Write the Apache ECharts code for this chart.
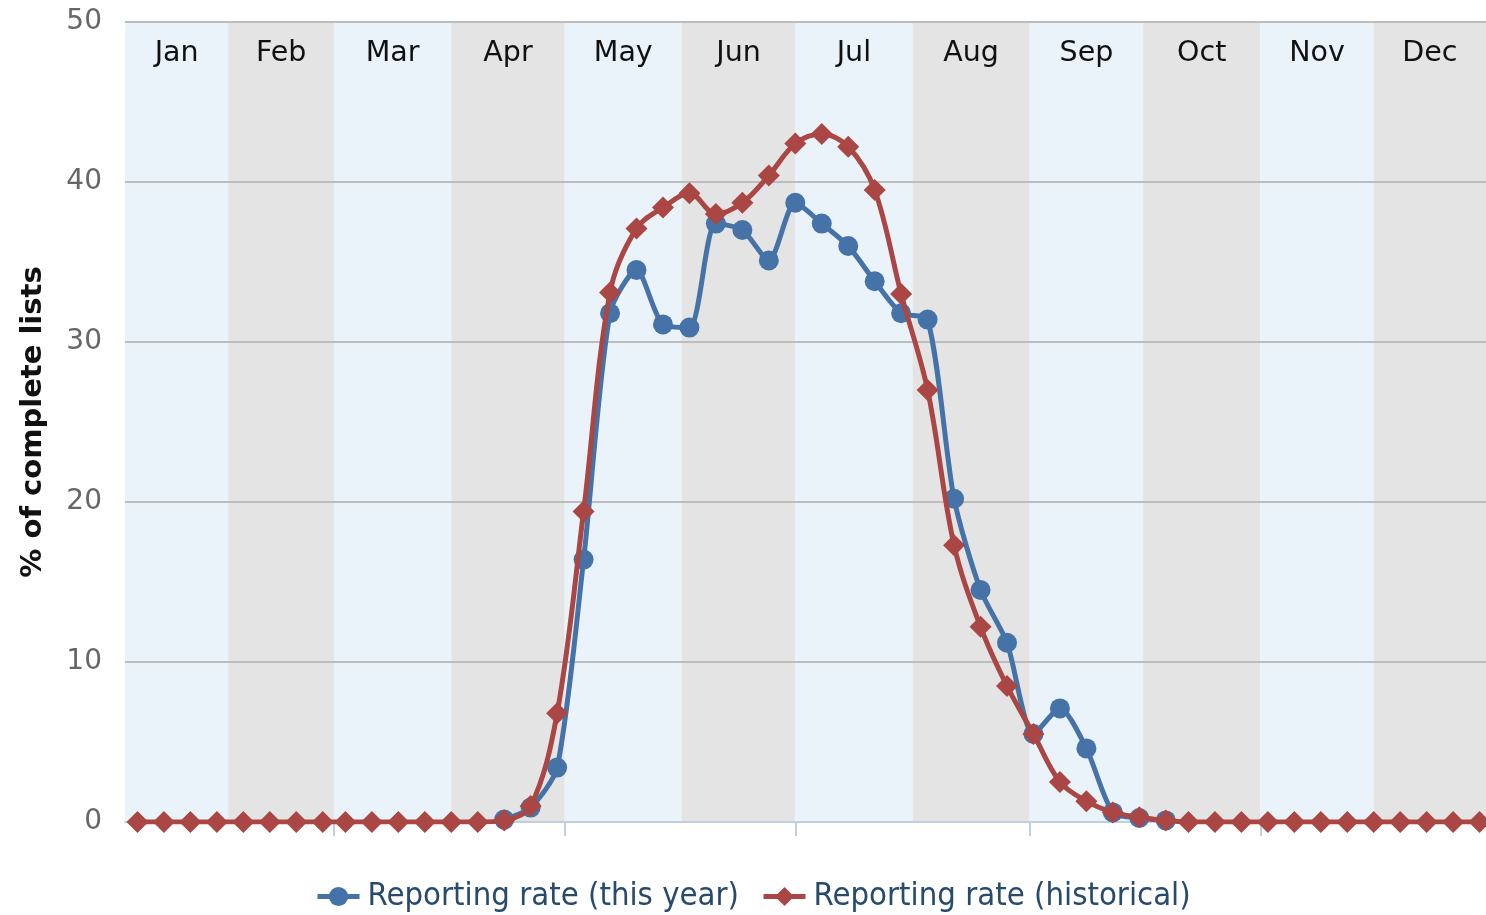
<!DOCTYPE html>
<html>
<head>
<meta charset="utf-8">
<script src="https://cdn.jsdelivr.net/npm/echarts@6.0.0/dist/echarts.min.js"></script>
<style>
  html, body { margin: 0; padding: 0; background: #ffffff; }
  #chart { width: 1486px; height: 915px; }
</style>
</head>
<body>
<div id="chart"></div>
<script>
// ---- data ----
const months = ['Jan', 'Feb', 'Mar', 'Apr', 'May', 'Jun', 'Jul', 'Aug', 'Sep', 'Oct', 'Nov', 'Dec'];
// day of year at which each month starts (non-leap year), plus year end
const monthStartDays = [0, 31, 59, 90, 120, 151, 181, 212, 243, 273, 304, 334, 365];
// axis tick positions (start of Mar, May, Jul, Sep, Nov)
const xTickDays = [59, 120, 181, 243, 304];
// day of year of each weekly sample
const weekDays = [7, 14, 21, 28, 35, 42, 49, 56,
  62, 69, 76, 83, 90, 97, 104, 111, 118, 125, 132, 139, 146, 153, 160, 167, 174, 181,
  188, 195, 202, 209, 216, 223, 230, 237, 244, 251, 258, 265, 272, 279,
  285, 292, 299, 306, 313, 320, 327, 334, 341, 348, 355, 362];
// Reporting rate (this year), % of complete lists
const thisYear = [null, null, null, null, null, null, null, null,
  null, null, null, null, null, null, 0.15, 0.9, 3.4, 16.4, 31.8, 34.5, 31.1, 30.9, 37.4, 37.0, 35.1, 38.7,
  37.4, 36.0, 33.8, 31.8, 31.4, 20.2, 14.5, 11.2, 5.5, 7.1, 4.6, 0.6, 0.25, 0.1,
  null, null, null, null, null, null, null, null, null, null, null, null];
// Reporting rate (historical), % of complete lists
const historical = [0, 0, 0, 0, 0, 0, 0, 0,
  0, 0, 0, 0, 0, 0, 0.1, 1.0, 6.8, 19.4, 33.1, 37.1, 38.4, 39.3, 38.0, 38.7, 40.4, 42.4,
  43.0, 42.2, 39.5, 33.0, 27.0, 17.3, 12.2, 8.5, 5.5, 2.5, 1.3, 0.6, 0.3, 0.1,
  0, 0, 0, 0, 0, 0, 0, 0, 0, 0, 0, 0];
const seriesNames = ['Reporting rate (this year)', 'Reporting rate (historical)'];
const yMin = 0, yMax = 50, yStep = 10;

// ---- view settings ----
const X_MIN = 3.7, X_MAX = 363.7;
const bandColors = ['#eaf3fa', '#e4e4e4'];
const FONT = '"DejaVu Sans", Verdana, sans-serif';

function pairs(values) {
  const out = [];
  values.forEach((v, i) => { if (v !== null) out.push([weekDays[i], v]); });
  return out;
}

const bands = months.map((m, i) => [
  { name: m, xAxis: Math.max(monthStartDays[i], X_MIN), itemStyle: { color: bandColors[i % 2] } },
  { xAxis: Math.min(monthStartDays[i + 1], X_MAX) }
]);

const chart = echarts.init(document.getElementById('chart'), null, { renderer: 'canvas' });
chart.setOption({
  animation: false,
  backgroundColor: '#ffffff',
  grid: { left: 125, right: 0, top: 22, bottom: 93, containLabel: false },
  xAxis: {
    type: 'value',
    min: X_MIN,
    max: X_MAX,
    z: 2,
    axisLine: { show: true, lineStyle: { color: '#c0d0e0', width: 2 } },
    axisTick: { show: true, customValues: xTickDays, length: 14, lineStyle: { color: '#c0d0e0', width: 2 } },
    axisLabel: { show: false },
    splitLine: { show: false }
  },
  yAxis: {
    type: 'value',
    min: yMin,
    max: yMax,
    interval: yStep,
    z: 2,
    name: '% of complete lists',
    nameLocation: 'middle',
    nameGap: 77,
    nameRotate: 90,
    nameTextStyle: { fontFamily: FONT, fontSize: 29, fontWeight: 'bold', color: '#111111' },
    axisLine: { show: false },
    axisTick: { show: false },
    axisLabel: { margin: 23, fontFamily: FONT, fontSize: 28, color: '#666666' },
    splitLine: { show: true, lineStyle: { color: '#bdbdbd', width: 2 } }
  },
  legend: {
    data: seriesNames,
    left: 310,
    top: 875,
    itemWidth: 42,
    itemHeight: 24,
    itemGap: 22,
    lineStyle: { width: 5 },
    textStyle: {
      fontFamily: '"DejaVu Sans Condensed", "DejaVu Sans", sans-serif',
      fontSize: 32.6,
      color: '#274b6d',
      padding: [0, 0, 0, 3]
    }
  },
  series: [
    {
      name: seriesNames[0],
      type: 'line',
      z: 3,
      data: pairs(thisYear),
      smooth: 0.25,
      symbol: 'circle',
      symbolSize: 20,
      lineStyle: { color: '#4572a7', width: 5 },
      itemStyle: { color: '#4572a7' }
    },
    {
      name: seriesNames[1],
      type: 'line',
      z: 4,
      data: pairs(historical),
      smooth: 0.35,
      symbol: 'diamond',
      symbolSize: 22,
      lineStyle: { color: '#aa4643', width: 5 },
      itemStyle: { color: '#aa4643' },
      markArea: {
        silent: true,
        label: {
          show: true,
          position: 'insideTop',
          distance: 17,
          fontFamily: FONT,
          fontSize: 28.5,
          color: '#111111'
        },
        data: bands
      }
    }
  ]
});
</script>
</body>
</html>
